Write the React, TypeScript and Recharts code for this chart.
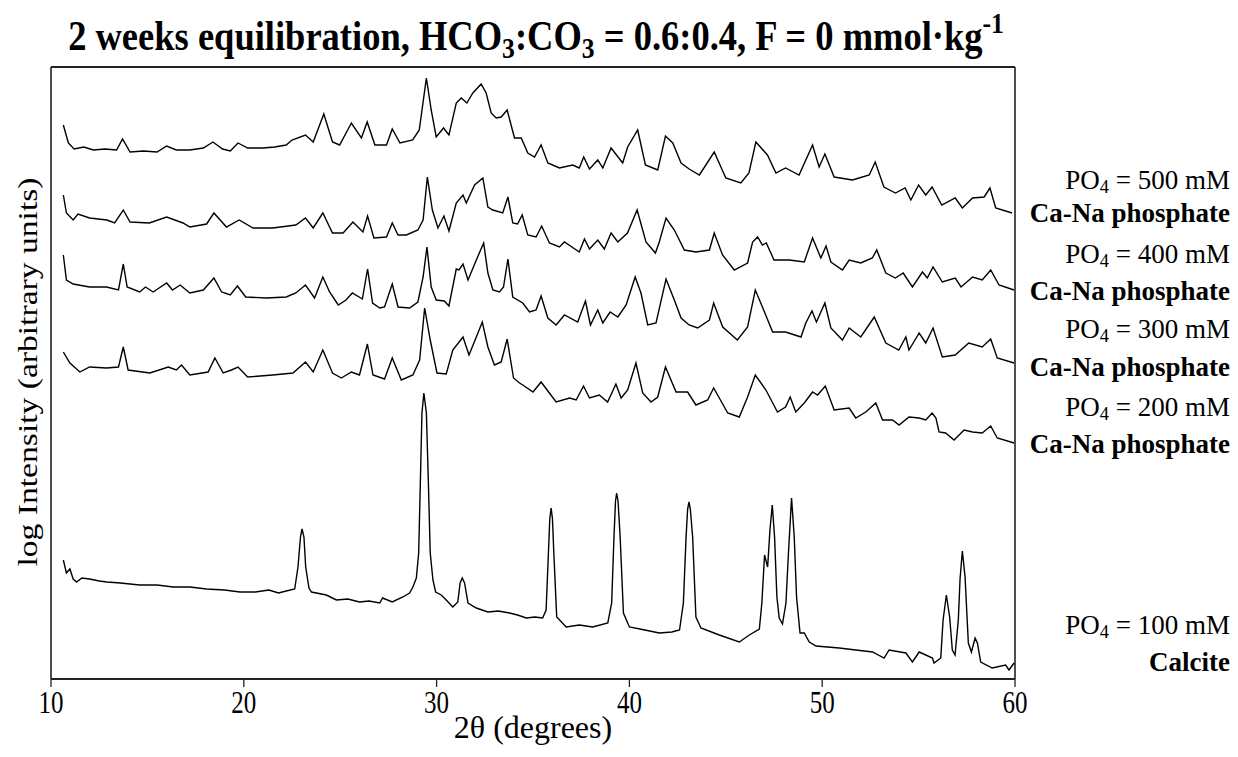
import { LineChart, Line, XAxis, YAxis, ReferenceLine } from "recharts";

// 2θ (degrees), log intensity (arbitrary units, stacked offsets)
const s500: [number, number][] = [
  [10.64, 554], [10.9, 536], [11.2, 530], [11.7, 532], [12.2, 529], [12.8, 530], [13.4, 529], [13.71, 540],
  [14.1, 527], [14.8, 528], [15.5, 527], [16.0, 533], [16.5, 529], [17.2, 529], [17.9, 531], [18.4, 537],
  [18.9, 530], [19.3, 528], [19.7, 536], [20.2, 531], [21.0, 531], [21.6, 532], [22.2, 534], [22.5, 539],
  [23.2, 544], [23.6, 537], [24.15, 565], [24.6, 537], [24.97, 534], [25.58, 556], [26.1, 541], [26.4, 557],
  [26.8, 534], [27.4, 534], [27.7, 550], [28.1, 536], [28.76, 539], [29.1, 549], [29.47, 601], [29.72, 569],
  [29.98, 542], [30.36, 551], [30.64, 544], [31.02, 576], [31.28, 581], [31.57, 576], [31.88, 586], [32.31, 595],
  [32.57, 586], [32.83, 566], [33.09, 561], [33.35, 562], [33.66, 569], [34.04, 541], [34.39, 541], [34.73, 526],
  [35.08, 522], [35.42, 534], [35.77, 516], [36.37, 511], [37.06, 514], [37.4, 511], [37.63, 522], [37.93, 510],
  [38.36, 519], [38.62, 511], [39.05, 531], [39.65, 516], [39.91, 532], [40.43, 549], [40.83, 514], [41.47, 509],
  [41.87, 543], [42.25, 536], [42.68, 516], [43.1, 510], [43.63, 504], [44.4, 527], [45.0, 501], [45.78, 496],
  [46.2, 506], [46.56, 537], [47.16, 524], [47.6, 506], [48.1, 511], [48.8, 504], [49.5, 534], [49.84, 512],
  [50.14, 525], [50.62, 502], [51.57, 499], [52.44, 504], [52.75, 517], [53.2, 492], [53.8, 486], [54.3, 491],
  [54.6, 479], [55.0, 494], [55.37, 484], [55.7, 492], [56.2, 474], [56.9, 481], [57.27, 471], [57.8, 481],
  [58.4, 482], [58.7, 491], [59.0, 471], [59.85, 466],
];

const s400: [number, number][] = [
  [10.64, 484], [10.8, 466], [11.15, 459], [11.4, 465], [12.0, 461], [12.9, 459], [13.3, 456], [13.75, 469],
  [14.1, 457], [15.1, 456], [16.0, 462], [16.85, 456], [17.2, 452], [18.07, 455], [18.45, 466], [19.1, 452],
  [19.76, 459], [20.48, 451], [21.5, 451], [22.7, 454], [23.2, 461], [23.6, 451], [24.1, 466], [24.6, 446],
  [25.15, 446], [25.66, 457], [26.18, 447], [26.42, 463], [26.75, 441], [27.4, 442], [27.7, 456], [28.0, 444],
  [28.43, 444], [29.03, 449], [29.3, 459], [29.52, 502], [29.78, 469], [30.07, 451], [30.38, 463], [30.64, 448],
  [31.02, 476], [31.37, 484], [31.54, 476], [31.97, 494], [32.4, 501], [32.66, 472], [32.92, 469], [33.43, 466],
  [33.7, 482], [33.95, 456], [34.2, 455], [34.44, 464], [34.73, 444], [35.16, 442], [35.45, 453], [35.85, 436],
  [36.37, 432], [36.63, 437], [37.4, 427], [37.67, 440], [37.93, 430], [38.36, 439], [38.7, 430], [39.05, 446],
  [39.4, 437], [39.9, 446], [40.4, 469], [40.86, 437], [41.35, 426], [41.55, 437], [41.9, 461], [42.33, 449],
  [42.85, 429], [43.45, 427], [44.15, 429], [44.4, 446], [44.83, 424], [45.44, 409], [46.13, 416], [46.39, 437],
  [46.65, 442], [46.9, 434], [47.1, 436], [47.5, 419], [48.3, 419], [49.07, 417], [49.5, 441], [49.93, 421],
  [50.2, 433], [50.45, 417], [51.05, 409], [51.4, 419], [52.0, 416], [52.6, 421], [52.83, 429], [53.3, 406],
  [53.8, 401], [54.2, 406], [54.68, 392], [55.2, 407], [55.45, 401], [55.75, 412], [56.23, 397], [56.9, 401],
  [57.2, 392], [57.8, 402], [58.3, 399], [58.74, 409], [59.17, 394], [59.95, 389],
];

const s300: [number, number][] = [
  [10.64, 424], [10.8, 399], [11.15, 395], [12.0, 392], [12.88, 392], [13.5, 389], [13.75, 415], [13.95, 392],
  [14.6, 387], [14.9, 392], [15.3, 387], [16.0, 396], [16.3, 389], [16.7, 394], [17.2, 386], [17.9, 389],
  [18.45, 401], [18.85, 387], [19.3, 384], [19.67, 393], [20.1, 382], [21.18, 381], [22.2, 382], [22.7, 386],
  [23.2, 394], [23.67, 381], [24.1, 402], [24.45, 387], [24.9, 374], [25.3, 379], [25.63, 386], [26.15, 380],
  [26.42, 410], [26.68, 376], [27.05, 371], [27.3, 372], [27.7, 395], [28.0, 372], [28.6, 371], [29.03, 377],
  [29.3, 402], [29.5, 432], [29.72, 392], [29.98, 379], [30.4, 378], [30.64, 373], [31.02, 410], [31.16, 409],
  [31.37, 415], [31.63, 399], [32.06, 419], [32.44, 436], [32.66, 406], [32.92, 389], [33.26, 387], [33.47, 392],
  [33.7, 420], [33.95, 382], [34.47, 376], [34.82, 367], [35.16, 369], [35.42, 383], [35.77, 361], [36.2, 354],
  [36.63, 364], [37.32, 357], [37.72, 378], [37.98, 354], [38.36, 369], [38.62, 356], [39.0, 367], [39.4, 362],
  [39.83, 374], [40.3, 402], [40.6, 386], [40.95, 354], [41.38, 356], [41.9, 400], [42.33, 379], [42.68, 361],
  [43.1, 354], [43.54, 351], [44.15, 359], [44.37, 376], [44.84, 352], [45.6, 339], [46.13, 352], [46.53, 389],
  [46.9, 372], [47.43, 347], [48.1, 347], [48.9, 342], [49.15, 356], [49.47, 368], [49.7, 357], [50.14, 376],
  [50.45, 351], [51.05, 339], [51.4, 351], [52.0, 342], [52.7, 362], [53.3, 336], [53.97, 329], [54.34, 342],
  [54.5, 329], [55.03, 346], [55.37, 336], [55.75, 351], [56.23, 322], [56.9, 324], [57.6, 336], [58.3, 332],
  [58.74, 340], [59.08, 321], [59.95, 316],
];

const s200: [number, number][] = [
  [10.64, 327], [10.98, 316], [11.5, 307], [12.0, 312], [12.88, 311], [13.5, 312], [13.75, 332], [14.0, 309],
  [15.13, 306], [16.08, 312], [16.5, 309], [16.77, 314], [17.2, 304], [18.15, 307], [18.5, 321], [18.93, 306],
  [19.36, 309], [19.7, 312], [20.2, 302], [21.5, 304], [22.55, 306], [23.2, 317], [23.6, 307], [24.1, 329],
  [24.6, 306], [25.06, 301], [25.58, 307], [26.0, 304], [26.41, 335], [26.7, 304], [27.3, 300], [27.7, 321],
  [28.17, 299], [28.77, 304], [29.12, 319], [29.38, 371], [29.67, 339], [30.02, 306], [30.5, 305], [30.84, 329],
  [31.37, 342], [31.68, 324], [32.06, 342], [32.37, 357], [32.66, 332], [33.0, 314], [33.35, 317], [33.66, 340],
  [33.99, 301], [34.3, 296], [34.47, 294], [35.0, 287], [35.42, 297], [35.85, 286], [36.2, 277], [36.9, 281],
  [37.24, 279], [37.62, 293], [37.93, 281], [38.44, 284], [38.87, 277], [39.3, 295], [39.57, 281], [39.91, 289],
  [40.34, 316], [40.69, 286], [41.12, 277], [41.47, 282], [41.87, 312], [42.42, 287], [43.02, 287], [43.45, 274],
  [44.06, 279], [44.37, 291], [45.1, 266], [45.7, 262], [46.13, 282], [46.53, 304], [47.08, 289], [47.68, 267],
  [48.1, 272], [48.34, 282], [48.63, 267], [49.07, 276], [49.5, 287], [49.76, 284], [50.16, 293], [50.62, 269],
  [51.4, 271], [51.74, 261], [52.26, 267], [52.78, 276], [53.13, 259], [53.65, 259], [53.99, 254], [54.5, 262],
  [55.03, 261], [55.37, 259], [55.7, 266], [55.9, 261], [56.06, 247], [56.4, 246], [56.84, 239], [57.36, 249],
  [57.8, 247], [58.3, 246], [58.74, 253], [59.08, 241], [59.95, 236],
];

const s100: [number, number][] = [
  [10.64, 119], [10.8, 106], [10.98, 110], [11.15, 100], [11.33, 97], [11.6, 101], [12.0, 100], [12.5, 98],
  [12.9, 97], [13.6, 96], [14.6, 94], [15.5, 94], [16.34, 92], [17.2, 92], [18.07, 90], [19.0, 89],
  [19.8, 87], [20.6, 87], [21.3, 89], [21.8, 86], [22.2, 88], [22.64, 90], [22.81, 112], [22.94, 142],
  [23.02, 150], [23.12, 142], [23.21, 112], [23.38, 91], [23.51, 87], [24.28, 84], [24.8, 79], [25.4, 80],
  [26.0, 77], [26.5, 78], [27.05, 76], [27.2, 81], [27.7, 77], [28.25, 82], [28.6, 86], [28.77, 92],
  [28.95, 101], [29.07, 126], [29.16, 199], [29.24, 266], [29.34, 286], [29.47, 266], [29.57, 199], [29.67, 126],
  [29.81, 99], [29.95, 87], [30.24, 84], [30.5, 79], [30.84, 72], [31.1, 77], [31.22, 96], [31.33, 101],
  [31.45, 96], [31.63, 76], [32.06, 71], [32.66, 67], [33.2, 68], [33.78, 66], [34.2, 64], [34.65, 61],
  [35.1, 62], [35.5, 61], [35.68, 69], [35.8, 126], [35.87, 160], [35.94, 171], [36.01, 160], [36.08, 126],
  [36.23, 62], [36.72, 52], [37.4, 54], [38.1, 52], [38.88, 56], [39.08, 76], [39.2, 142], [39.28, 178],
  [39.34, 186], [39.41, 178], [39.52, 142], [39.69, 66], [40.0, 52], [40.8, 49], [41.55, 46], [42.2, 47],
  [42.6, 49], [42.8, 76], [42.94, 142], [43.02, 170], [43.09, 177], [43.16, 170], [43.28, 142], [43.45, 62],
  [43.71, 51], [44.66, 44], [45.7, 37], [46.22, 44], [46.74, 50], [46.87, 76], [47.01, 124], [47.17, 112],
  [47.29, 149], [47.41, 174], [47.53, 142], [47.65, 82], [47.77, 61], [47.94, 55], [48.12, 76], [48.25, 126],
  [48.41, 181], [48.55, 142], [48.67, 82], [48.85, 46], [49.07, 46], [49.33, 37], [49.68, 33], [50.88, 31],
  [52.61, 27], [53.21, 21], [53.47, 29], [54.34, 26], [54.68, 17], [55.03, 27], [55.72, 21], [55.8, 16],
  [56.15, 21], [56.27, 59], [56.44, 84], [56.61, 62], [56.75, 29], [56.89, 24], [57.06, 59], [57.15, 100],
  [57.27, 128], [57.41, 102], [57.58, 36], [57.74, 27], [57.93, 41], [58.05, 36], [58.22, 17], [58.82, 11],
  [59.51, 14], [59.69, 9], [59.95, 16],
];

const bottomTicks = [10, 20, 30, 40, 50, 60];
const topTicks = [10, 15, 20, 25, 30, 35, 40, 45, 50, 55, 60];

const seriesList = [
  { name: "500", pts: s500, conc: "500", phase: "Ca-Na phosphate" },
  { name: "400", pts: s400, conc: "400", phase: "Ca-Na phosphate" },
  { name: "300", pts: s300, conc: "300", phase: "Ca-Na phosphate" },
  { name: "200", pts: s200, conc: "200", phase: "Ca-Na phosphate" },
  { name: "100", pts: s100, conc: "100", phase: "Calcite" },
];

// label rows (px centers of the two text lines on the right)
const labelY = [
  [180, 213],
  [254, 291],
  [329, 367],
  [407, 444],
  [625, 662],
];

const serif = '"Liberation Serif"';
const sub = { fontSize: "0.7em", verticalAlign: "-0.3em", lineHeight: 0 } as const;
const subSmall = { fontSize: "0.68em", verticalAlign: "-0.2em", lineHeight: 0 } as const;

// tall-ish tick numbers like the reference
function TickText(props: any) {
  const { x, y, payload } = props;
  return (
    <g transform={`translate(${x},${y}) scale(1,1.3)`}>
      <text x={0} y={0} dy="0.78em" textAnchor="middle" fontSize={25} fontFamily="Liberation Serif" fill="#000">
        {payload.value}
      </text>
    </g>
  );
}

const rightLabel = {
  position: "absolute",
  left: 980,
  width: 250,
  transform: "translateY(-50%)",
  textAlign: "right",
  fontSize: 27,
  lineHeight: "24px",
  whiteSpace: "nowrap",
} as const;

export default function App() {
  return (
    <div style={{ position: "absolute", left: 0, top: 0, width: 1238, height: 757, background: "#fff", fontFamily: serif, color: "#000" }}>
      <LineChart width={1238} height={757} margin={{ top: 37, right: 223, bottom: 48, left: 51 }}>
        <XAxis
          xAxisId="b"
          type="number"
          dataKey="x"
          domain={[10, 60]}
          ticks={bottomTicks}
          allowDataOverflow
          height={30}
          tickSize={8}
          tickMargin={1}
          tick={<TickText />}
          axisLine={{ stroke: "#222", strokeWidth: 2 }}
          tickLine={{ stroke: "#222", strokeWidth: 1.3 }}
        />
        <XAxis
          xAxisId="t"
          orientation="top"
          type="number"
          domain={[10, 60]}
          ticks={topTicks}
          allowDataOverflow
          height={30}
          tickSize={7}
          tickFormatter={() => ""}
          axisLine={{ stroke: "#222", strokeWidth: 2 }}
          tickLine={{ stroke: "#222", strokeWidth: 1.3 }}
        />
        <YAxis yAxisId="l" type="number" domain={[0, 612]} hide />
        <ReferenceLine xAxisId="b" yAxisId="l" x={10} stroke="#222" strokeWidth={1.6} />
        <ReferenceLine xAxisId="b" yAxisId="l" x={60} stroke="#222" strokeWidth={1.6} />
        {seriesList.map((s) => (
          <Line
            key={s.name}
            xAxisId="b"
            yAxisId="l"
            data={s.pts.map(([x, y]) => ({ x, y }))}
            dataKey="y"
            type="linear"
            stroke="#000"
            strokeWidth={1.4}
            dot={false}
            isAnimationActive={false}
          />
        ))}
      </LineChart>

      <div
        style={{
          position: "absolute",
          left: 0,
          width: 1072,
          top: 36,
          transform: "translateY(-50%) scaleY(1.15)",
          textAlign: "center",
          fontSize: 36.5,
          fontWeight: "bold",
          lineHeight: 1,
          whiteSpace: "nowrap",
        }}
      >
        2 weeks equilibration, HCO<span style={sub}>3</span>:CO<span style={sub}>3</span> = 0.6:0.4, F = 0 mmol·kg
        <span style={{ fontSize: "0.7em", verticalAlign: "0.55em", lineHeight: 0 }}>-1</span>
      </div>

      <div
        style={{
          position: "absolute",
          left: 28,
          top: 372,
          transform: "translate(-50%, -50%) rotate(-90deg) scaleX(1.2)",
          fontSize: 28,
          lineHeight: 1,
          whiteSpace: "nowrap",
        }}
      >
        log Intensity (arbitrary units)
      </div>

      <div style={{ position: "absolute", left: 0, width: 1066, top: 727, transform: "translateY(-50%)", textAlign: "center", fontSize: 32, lineHeight: 1, whiteSpace: "nowrap" }}>
        2θ (degrees)
      </div>

      {seriesList.map((s, i) => (
        <div key={s.name}>
          <div style={{ ...rightLabel, top: labelY[i][0] }}>
            PO<span style={subSmall}>4</span> = {s.conc} mM
          </div>
          <div style={{ ...rightLabel, top: labelY[i][1], fontWeight: "bold" }}>{s.phase}</div>
        </div>
      ))}
    </div>
  );
}
